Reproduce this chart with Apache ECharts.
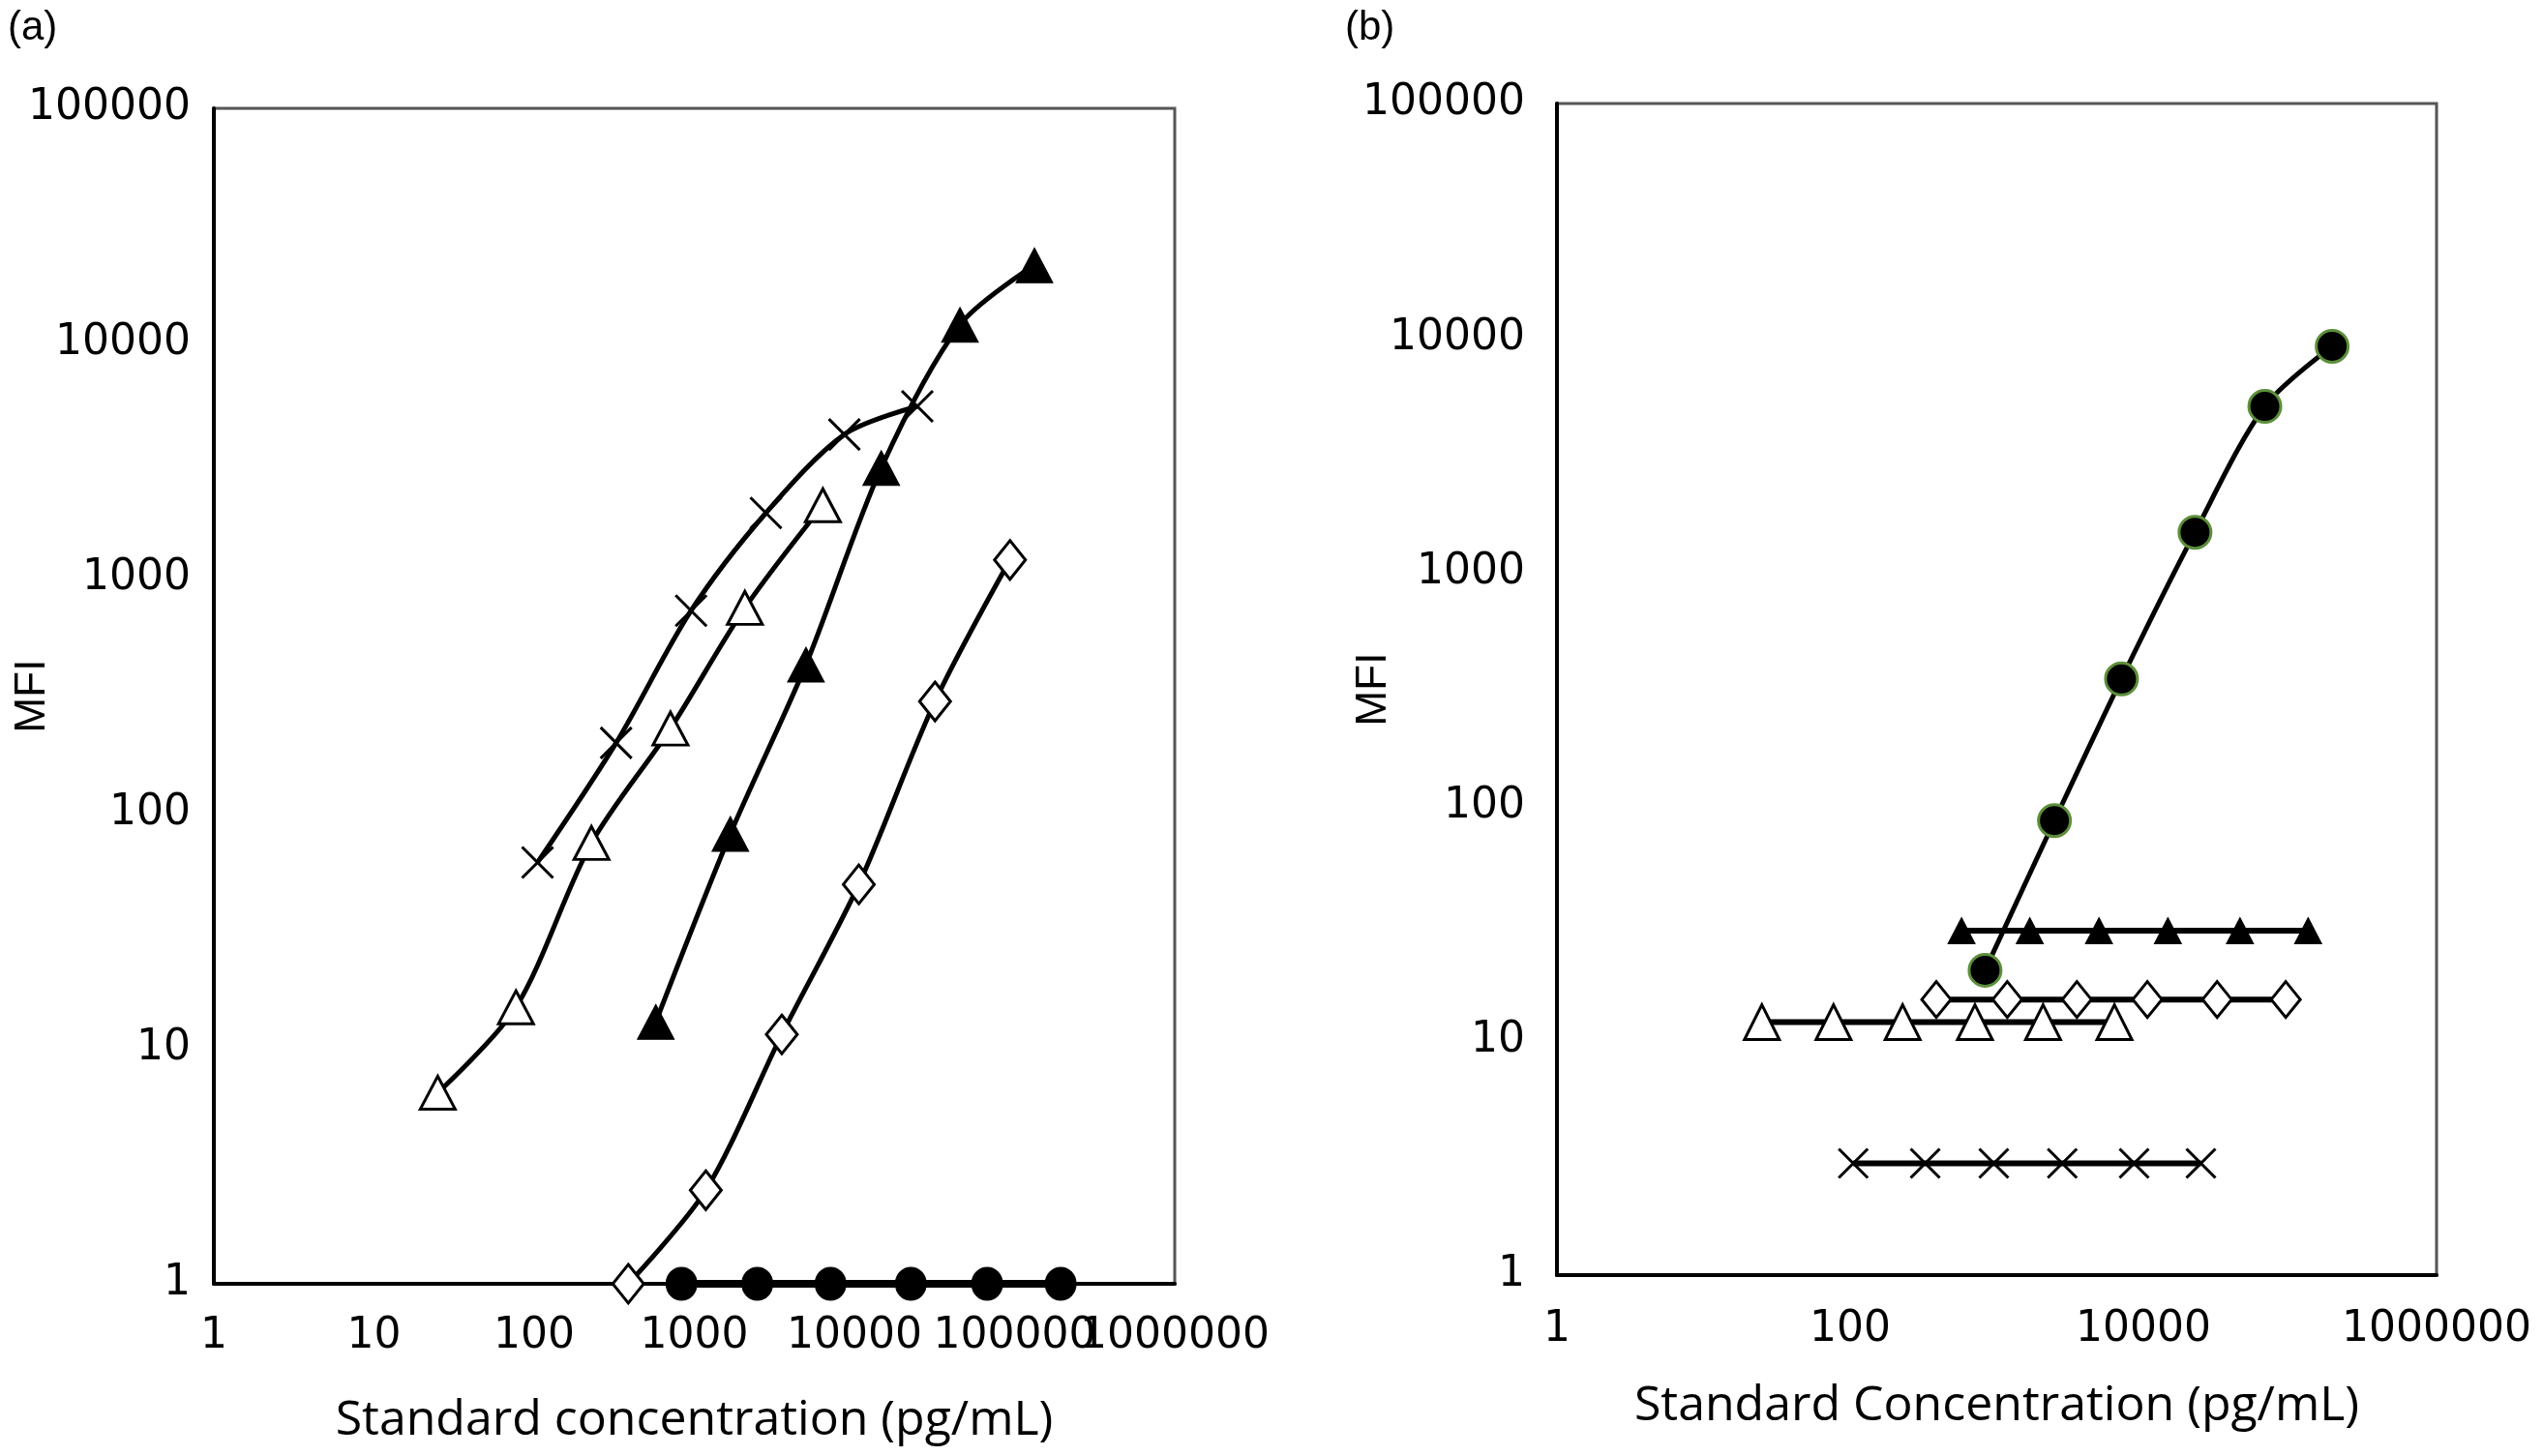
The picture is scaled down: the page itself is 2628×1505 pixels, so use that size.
<!DOCTYPE html>
<html>
<head>
<meta charset="utf-8">
<script src="https://cdn.jsdelivr.net/npm/echarts@6/dist/echarts.min.js"></script>
<style>
html, body { margin: 0; padding: 0; background: #fff; }
#chart { width: 2628px; height: 1505px; }
</style>
</head>
<body>
<div id="chart"></div>
<script>
// standard concentrations (pg/mL), one row of dilutions per analyte
const crossX = [105, 325, 955, 2800, 8650, 24700]
const openTriX = [25, 77, 228, 710, 2070, 6350]
const fillTriX = [575, 1680, 4980, 14700, 45600, 133000]
const diamondX = [387, 1180, 3520, 10650, 31850, 93600]
const circleX = [832, 2475, 7090, 22500, 67400, 194000]

// panel (a) MFI
const aCross = [62, 200, 730, 1900, 4100, 5400]
const aOpenTri = [6.5, 15, 75, 230, 750, 2050]
const aFillTri = [13, 82, 430, 2950, 12000, 21500]
const aDiamond = [1, 2.5, 11.5, 50, 300, 1200]
const aCircle = [1, 1, 1, 1, 1, 1]

// panel (b) MFI
const bCircle = [20, 87, 350, 1480, 5100, 9200]
const bFillTri = [29.5, 29.5, 29.5, 29.5, 29.5, 29.5]
const bDiamond = [15, 15, 15, 15, 15, 15]
const bOpenTri = [12, 12, 12, 12, 12, 12]
const bCross = [3, 3, 3, 3, 3, 3]

// tick labels
const xTicksA = ['1', '10', '100', '1000', '10000', '100000', '1000000']
const xTicksB = ['1', '100', '10000', '1000000']
const yTicks = ['1', '10', '100', '1000', '10000', '100000']

const xTitles = ['Standard concentration (pg/mL)', 'Standard Concentration (pg/mL)']
const yTitle = 'MFI'
const panelTags = ['(a)', '(b)']

const CROSS = 'path://M0,0L10,10M10,0L0,10'
const pair = (xs, ys) => xs.map((x, i) => [x, ys[i]])

// marker looks
const MARK = {
  cross: { symbol: CROSS, item: { color: 'rgba(0,0,0,0)', borderColor: '#000', borderWidth: 3 } },
  openTri: { symbol: 'triangle', item: { color: '#fff', borderColor: '#000', borderWidth: 3 } },
  fillTri: { symbol: 'triangle', item: { color: '#000', borderColor: '#000', borderWidth: 1 } },
  diamond: { symbol: 'diamond', item: { color: '#fff', borderColor: '#000', borderWidth: 3 } },
  circle: { symbol: 'circle', item: { color: '#000', borderColor: '#000', borderWidth: 1 } },
  greenCircle: { symbol: 'circle', item: { color: '#000', borderColor: '#5d8f3b', borderWidth: 3 } }
}

function line(idx, data, kind, size, width, smooth) {
  const m = MARK[kind]
  return {
    type: 'line',
    xAxisIndex: idx,
    yAxisIndex: idx,
    data: data,
    symbol: m.symbol,
    symbolSize: size,
    smooth: smooth,
    clip: false,
    animation: false,
    showAllSymbol: true,
    itemStyle: m.item,
    lineStyle: { color: '#000', width: width },
    emphasis: { disabled: true }
  }
}

// only print the values found in the given list
const pick = (list) => (v) => {
  const s = String(Math.round(v))
  return list.indexOf(s) >= 0 ? s : ''
}

const LABEL_FONT = { fontFamily: 'DejaVu Sans', fontSize: 44, color: '#000' }

function xAxis(grid, ticks, opts) {
  return Object.assign({
    type: 'log', logBase: 10, gridIndex: grid, min: 1, max: 1000000,
    position: 'bottom',
    nameLocation: 'middle',
    nameMoveOverlap: false,
    nameTextStyle: { fontFamily: 'Open Sans', fontSize: 50, color: '#000' },
    axisLine: { show: true, onZero: false, lineStyle: { color: '#000', width: 4 } },
    axisTick: { show: false },
    splitLine: { show: false },
    minorTick: { show: false },
    axisLabel: Object.assign({
      formatter: pick(ticks), hideOverlap: false
    }, LABEL_FONT, opts.label)
  }, opts.axis)
}

function yAxis(grid, gap, margin) {
  return {
    type: 'log', logBase: 10, gridIndex: grid, min: 1, max: 100000,
    position: 'left',
    name: yTitle, nameLocation: 'middle', nameGap: gap,
    nameMoveOverlap: false,
    nameTextStyle: { fontFamily: 'Liberation Sans', fontSize: 44, color: '#000' },
    axisLine: { show: true, onZero: false, lineStyle: { color: '#000', width: 4 } },
    axisTick: { show: false },
    splitLine: { show: false },
    axisLabel: Object.assign({
      margin: margin, formatter: pick(yTicks),
      showMinLabel: true, showMaxLabel: true
    }, LABEL_FONT)
  }
}

const chart = echarts.init(document.getElementById('chart'))
chart.setOption({
  backgroundColor: '#fff',
  grid: [
    { left: 221, top: 112, width: 993, height: 1215, show: true, borderColor: '#555', borderWidth: 3, outerBoundsMode: 'none' },
    { left: 1609, top: 107, width: 909, height: 1211, show: true, borderColor: '#555', borderWidth: 3, outerBoundsMode: 'none' }
  ],
  xAxis: [
    // (a) main axis: all labels except the last one, which would be hidden on overlap
    xAxis(0, xTicksA.slice(0, -1), { axis: { name: xTitles[0], nameGap: 117 }, label: { margin: 33, showMinLabel: true } }),
    xAxis(1, xTicksB, { axis: { name: xTitles[1], nameGap: 111 }, label: { margin: 35, showMinLabel: true, showMaxLabel: true } }),
    // (a) helper axis that only prints 1000000 on top of the neighbour label
    xAxis(0, xTicksA.slice(-1), { axis: { axisLine: { show: false, onZero: false } }, label: { margin: 33, showMaxLabel: true } })
  ],
  yAxis: [yAxis(0, 165, 24), yAxis(1, 167, 33)],
  graphic: [
    { type: 'text', left: 8, top: 8, style: { text: panelTags[0], font: '42px "Liberation Sans"', fill: '#000' } },
    { type: 'text', left: 1390, top: 8, style: { text: panelTags[1], font: '42px "Liberation Sans"', fill: '#000' } }
  ],
  series: [
    // (a)
    line(0, pair(circleX, aCircle), 'circle', [32, 34], 8, false),
    line(0, pair(diamondX, aDiamond), 'diamond', [32, 40], 5, 0.3),
    line(0, pair(openTriX, aOpenTri), 'openTri', [36, 34], 5, 0.3),
    line(0, pair(crossX, aCross), 'cross', [32, 32], 5, 0.3),
    line(0, pair(fillTriX, aFillTri), 'fillTri', [38, 36], 5, 0.3),
    // (b)
    line(1, pair(crossX, bCross), 'cross', [30, 30], 6, false),
    line(1, pair(openTriX, bOpenTri), 'openTri', [36, 36], 6, false),
    line(1, pair(diamondX, bDiamond), 'diamond', [30, 37], 6, false),
    line(1, pair(fillTriX, bFillTri), 'fillTri', [28, 27], 6, false),
    line(1, pair(circleX, bCircle), 'greenCircle', [33, 33], 5, 0.3)
  ]
})
window.addEventListener('resize', () => chart.resize())
</script>
</body>
</html>
